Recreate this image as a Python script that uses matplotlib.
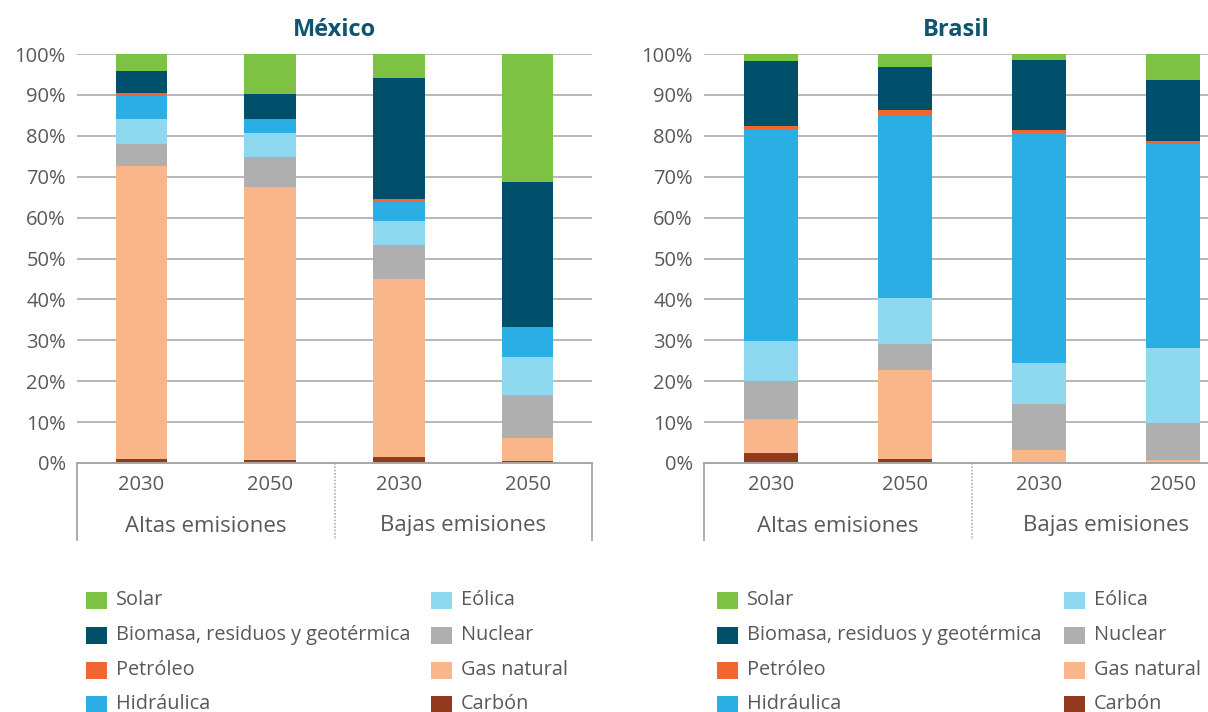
import matplotlib
matplotlib.use("Agg")
import matplotlib.pyplot as plt
from matplotlib.patches import Rectangle
import numpy as np

plt.rcParams['font.family'] = ['Open Sans', 'DejaVu Sans']

# ---------------- data ----------------
categories = ["2030", "2050", "2030", "2050"]
groups = ["Altas emisiones", "Bajas emisiones"]
titles = ["México", "Brasil"]

sources = ["Carbón", "Gas natural", "Nuclear", "Eólica", "Hidráulica",
           "Petróleo", "Biomasa, residuos y geotérmica", "Solar"]
colors = ["#923a1e", "#f9b68b", "#afafaf", "#8fd9f0", "#2baee4",
          "#f26430", "#01506b", "#7dc242"]

mexico_carbon = [1.0, 0.7, 1.5, 0.5]
mexico_gas = [71.7, 66.9, 43.4, 5.6]
mexico_nuclear = [5.4, 7.1, 8.3, 10.5]
mexico_eolica = [6.1, 5.9, 5.9, 9.3]
mexico_hidraulica = [5.5, 3.2, 4.9, 7.3]
mexico_petroleo = [0.7, 0.4, 0.6, 0.1]
mexico_biomasa = [5.5, 6.1, 29.6, 35.4]
mexico_solar = [4.1, 9.7, 5.8, 31.3]

brasil_carbon = [2.4, 1.0, 0.0, 0.0]
brasil_gas = [8.3, 21.7, 3.2, 0.7]
brasil_nuclear = [9.3, 6.3, 11.2, 9.1]
brasil_eolica = [9.8, 11.3, 10.0, 18.3]
brasil_hidraulica = [51.9, 44.9, 56.2, 49.9]
brasil_petroleo = [0.8, 1.0, 0.7, 0.7]
brasil_biomasa = [15.9, 10.7, 17.3, 15.0]
brasil_solar = [1.6, 3.1, 1.4, 6.3]

yticks = [0, 10, 20, 30, 40, 50, 60, 70, 80, 90, 100]

mexico = [mexico_carbon, mexico_gas, mexico_nuclear, mexico_eolica,
          mexico_hidraulica, mexico_petroleo, mexico_biomasa, mexico_solar]
brasil = [brasil_carbon, brasil_gas, brasil_nuclear, brasil_eolica,
          brasil_hidraulica, brasil_petroleo, brasil_biomasa, brasil_solar]

# ---------------- figure ----------------
W, H = 1208, 712
fig = plt.figure(figsize=(W / 100, H / 100), dpi=100)

TXT = "#595959"
GRID = "#b8b8b8"
BOX = "#a6a6a6"
TITLE = "#0f5470"

def px_axes(x0, x1, ytop, ybot):
    return fig.add_axes([x0 / W, 1 - ybot / H, (x1 - x0) / W, (ybot - ytop) / H])

ax_top, ax_bot = 54, 463
axes_specs = [
    (77, 592, (-0.5, 3.5), True),
    (704, 1208, (-0.5, 3.26), False),
]

for (x0, x1, xlim, right_line), data, title in zip(axes_specs, [mexico, brasil], titles):
    ax = px_axes(x0, x1, ax_top, ax_bot)
    x = np.arange(len(categories))
    bottom = np.zeros(len(categories))
    for vals, col in zip(data, colors):
        vals = np.array(vals)
        ax.bar(x, vals, width=0.4, bottom=bottom, color=col, linewidth=0, zorder=3)
        bottom += vals
    ax.set_xlim(*xlim)
    ax.set_ylim(0, 100)
    ax.set_yticks(yticks)
    ax.set_yticklabels([f"{t}%" for t in yticks])
    ax.set_xticks(x)
    ax.set_xticklabels(categories)
    ax.tick_params(axis='both', length=0, labelcolor=TXT)
    ax.tick_params(axis='y', labelsize=14.5, pad=8)
    ax.tick_params(axis='x', labelsize=14.5, pad=9)
    ax.yaxis.grid(True, color=GRID, linewidth=1.4, zorder=0)
    ax.set_axisbelow(True)
    for s in ["top", "left", "right"]:
        ax.spines[s].set_visible(False)
    ax.spines["bottom"].set_color(BOX)
    ax.spines["bottom"].set_linewidth(1.4)
    ax.spines["bottom"].set_zorder(4)

    # category box lines
    ybot_frac = -(540 - ax_bot) / (ax_bot - ax_top)
    ax.plot([0, 0], [0, ybot_frac], transform=ax.transAxes, color=BOX,
            lw=1.3, clip_on=False)
    if right_line:
        ax.plot([1, 1], [0, ybot_frac], transform=ax.transAxes, color=BOX,
                lw=1.3, clip_on=False)
    ax.plot([1.5, 1.5], [0, ybot_frac], transform=ax.get_xaxis_transform(),
            color="#b0b0b0", lw=1.2, ls=(0, (1, 1)), clip_on=False)

    # group labels
    gy = -(526 - ax_bot) / (ax_bot - ax_top)
    for gx, g in zip([0.5, 2.5], groups):
        ax.text(gx, gy, g, transform=ax.get_xaxis_transform(), ha='center',
                va='center', fontsize=16, color=TXT)

    ax.set_title(title, fontsize=17, fontweight='bold', color=TITLE, pad=13)

# ---------------- legends ----------------
legend_order = ["Solar", "Biomasa, residuos y geotérmica", "Petróleo", "Hidráulica",
                "Eólica", "Nuclear", "Gas natural", "Carbón"]
row_y = [600, 635, 670, 704]
legend_cols = [
    [(86, 116), (431, 461)],
    [(717, 747), (1064, 1094)],
]
for cols in legend_cols:
    for i, name in enumerate(legend_order):
        c = i // 4
        r = i % 4
        px, tx = cols[c]
        cy = row_y[r]
        col = colors[sources.index(name)]
        fig.add_artist(Rectangle((px / W, 1 - (cy + 8.5) / H), 21 / W, 17 / H,
                                 transform=fig.transFigure, facecolor=col,
                                 edgecolor='none'))
        fig.text(tx / W, 1 - cy / H, name, ha='left', va='center',
                 fontsize=14.3, color=TXT)

fig.savefig("out.png", dpi=100)
